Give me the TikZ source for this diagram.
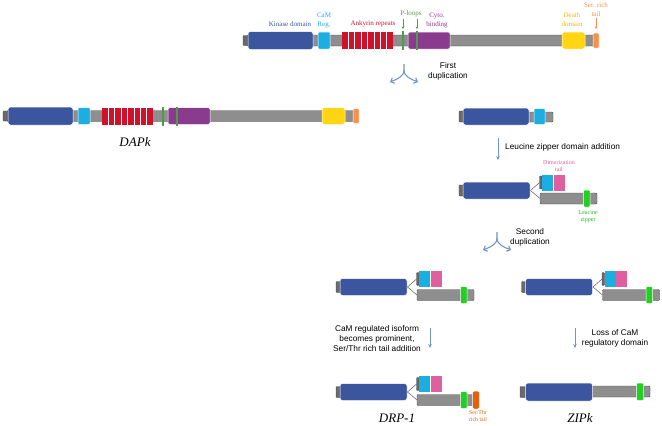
\documentclass[tikz,border=0pt]{standalone}
\usepackage{fontspec}
\setmainfont{Liberation Serif}
\setsansfont{Liberation Sans}
\usetikzlibrary{arrows.meta}

\definecolor{kinblue}{HTML}{3B569E}
\definecolor{camcyan}{HTML}{1BAEE3}
\definecolor{ankred}{HTML}{D0112B}
\definecolor{cytpurple}{HTML}{8A3B8E}
\definecolor{ploopgreen}{HTML}{4E9C47}
\definecolor{deathyellow}{HTML}{FFD514}
\definecolor{deathtext}{HTML}{F0B800}
\definecolor{serorange}{HTML}{F7924B}
\definecolor{dimpink}{HTML}{E0609F}
\definecolor{leugreen}{HTML}{22D022}
\definecolor{storange}{HTML}{E0620F}
\definecolor{bargray}{HTML}{8E8E8E}
\definecolor{capgray}{HTML}{6A6A6A}
\definecolor{arrowblue}{HTML}{7095C4}

\tikzset{
  bar/.style={fill=bargray, draw=gray!60!black, line width=0.4pt, rounded corners=1pt},
  endcap/.style={fill=capgray, draw=gray!50!black, line width=0.3pt, rounded corners=0.8pt},
  dom/.style={draw=white, line width=0.5pt, rounded corners=2.5pt},
  lbl/.style={font=\fontsize{7}{9}\selectfont, align=center, inner sep=0pt},
  steptxt/.style={font=\sffamily\fontsize{8.3}{10}\selectfont, align=center, inner sep=0pt},
  tiny/.style={font=\fontsize{6}{7}\selectfont, align=center, inner sep=0pt},
  protname/.style={font=\itshape\fontsize{13}{13}\selectfont, inner sep=0pt},
  evo/.style={arrowblue, line width=0.9pt, -{Stealth[length=4pt,width=3.5pt]}},
  split/.style={arrowblue, line width=1.1pt, -{Straight Barb[length=3pt,width=6pt]}},
  marker/.style={line width=0.6pt, -{Stealth[length=2.5pt,width=2.5pt]}}
}

% full length kinase, #1 = left end, #2 = centre line
\newcommand{\fullprot}[2]{%
  \begin{scope}[shift={(#1,#2)}]
    \draw[bar] (4,-5.5) rectangle (353,5.5);
    \draw[endcap] (0,-5) rectangle (5,5);
    \draw[dom, fill=kinblue] (5,-9) rectangle (70,9);
    \draw[dom, fill=camcyan, rounded corners=1pt] (75,-8.5) rectangle (87,8.5);
    \fill[ankred] (99,-8.5) rectangle (150,8.5);
    \foreach \i in {1,...,7}
      \draw[white, line width=0.6pt] ({99+6.375*\i},-8.5) -- ++(0,17);
    \fill[ploopgreen] (158.8,-9.5) rectangle (161.3,9.5);
    \draw[dom, fill=cytpurple, rounded corners=1.5pt] (165,-8.5) rectangle (207,8.5);
    \fill[ploopgreen] (172.8,-9.5) rectangle (175.3,9.5);
    \draw[dom, fill=deathyellow] (319,-8.5) rectangle (342,8.5);
    \draw[dom, fill=serorange, rounded corners=1pt] (350,-7.5) rectangle (356,7.5);
  \end{scope}}

% kinase with dimerization tail / leucine zipper fork, #1 = kinase left, #2 = centre
\newcommand{\zipfork}[2]{%
  \begin{scope}[shift={(#1,#2)}]
    \draw[endcap] (-4,-5.5) rectangle (0.5,5.5);
    \draw[dom, fill=kinblue] (0,-8.5) rectangle (67,8.5);
    \draw[gray!70!black, line width=0.5pt] (67.5,0) -- (76.5,-8);
    \draw[gray!70!black, line width=0.5pt] (67.5,0) -- (77,8);
    \draw[endcap] (76.5,-14.5) rectangle (79,-1.5);
    \fill[camcyan] (79,-16) rectangle (90,0);
    \fill[dimpink] (90.5,-16) rectangle (101.5,0);
    \draw[bar] (77,2.5) rectangle (134,13.5);
    \draw[dom, fill=leugreen, rounded corners=1pt] (120.5,-0.5) rectangle (127,16.5);
  \end{scope}}

\begin{document}
\begin{tikzpicture}[x=1pt,y=-1pt]
\useasboundingbox (0,0) rectangle (662,426);

% ancestral full length protein
\fullprot{243}{40.5}
\node[lbl, text=kinblue] (kinlbl) at (290,24) {Kinase domain};
\node[lbl, text=camcyan] (camlbl) at (324,20.5) {CaM\\Reg.};
\node[lbl, text=ankred] (anklbl) at (373,24) {Ankyrin repeats};
\node[lbl, text=ploopgreen] (plooplbl) at (411,14) {P-loops};
\node[lbl, text=cytpurple] (cytlbl) at (437,20) {Cyto.\\binding};
\node[lbl, text=deathtext] (deathlbl) at (572,20) {Death\\domain};
\node[lbl, text=serorange] (serlbl) at (596,10) {Ser. rich\\tail};
\coordinate (pl1) at (403,19); \coordinate (pl1e) at (403,29);
\coordinate (pl2) at (417,19); \coordinate (pl2e) at (417,29);
\coordinate (sr) at (596,18); \coordinate (sre) at (596,29);
\draw[marker, ploopgreen] (pl1) -- (pl1e);
\draw[marker, ploopgreen] (pl2) -- (pl2e);
\draw[marker, serorange] (sr) -- (sre);

% first duplication
\coordinate (d1top) at (404,64);
\coordinate (d1) at (404,70);
\coordinate (d1l) at (390,82);
\coordinate (d1r) at (418,82);
\draw[split] (d1top) -- (d1) .. controls +(0,7) and +(7,-3) .. (d1l);
\draw[split] (d1) .. controls +(0,7) and +(-7,-3) .. (d1r);
\node[steptxt] (dup1) at (448,71) {First\\duplication};

% DAPk
\fullprot{3}{116}
\node[protname] (dapk) at (135,142) {DAPk};

% short copy
\draw[bar] (528,112) rectangle (553,122);
\draw[endcap] (459,111) rectangle (463.5,122);
\draw[dom, fill=kinblue] (463,108) rectangle (529,125);
\draw[dom, fill=camcyan, rounded corners=1pt] (534,108.5) rectangle (545,124.5);

\coordinate (lz) at (498,138); \coordinate (lze) at (498,160);
\draw[evo] (lz) -- (lze);
\node[steptxt, anchor=west] (lzlbl) at (505,147) {Leucine zipper domain addition};

% with dimerization tail and leucine zipper
\zipfork{463}{190.5}
\node[tiny, text=dimpink] (dimlbl) at (559,166.5) {Dimerization\\tail};
\node[tiny, text=leugreen!90!black] (leulbl) at (588,217) {Leucine\\zipper};

% second duplication
\coordinate (d2top) at (497,232);
\coordinate (d2) at (497,238);
\coordinate (d2l) at (483,250);
\coordinate (d2r) at (511,250);
\draw[split] (d2top) -- (d2) .. controls +(0,7) and +(7,-3) .. (d2l);
\draw[split] (d2) .. controls +(0,7) and +(-7,-3) .. (d2r);
\node[steptxt] (dup2) at (530,237) {Second\\duplication};

\zipfork{340}{287}
\zipfork{525.5}{287}

% to DRP-1
\coordinate (cr) at (430,328); \coordinate (cre) at (430,348);
\draw[evo] (cr) -- (cre);
\node[steptxt] (crlbl) at (377,339) {CaM regulated isoform\\becomes prominent,\\Ser/Thr rich tail addition};

% to ZIPk
\coordinate (lc) at (575,328); \coordinate (lce) at (575,348);
\draw[evo] (lc) -- (lce);
\node[steptxt] (lclbl) at (615,338) {Loss of CaM\\regulatory domain};

% DRP-1
\zipfork{340}{392}
\draw[dom, fill=storange, rounded corners=2pt] (472.5,391) rectangle (479.5,409);
\node[tiny, text=storange, font=\fontsize{5.8}{7}\selectfont] (stlbl) at (478,416) {Ser/Thr\\rich tail};
\node[protname] (drp) at (397,418) {DRP-1};

% ZIPk
\draw[bar] (590,386) rectangle (650,397);
\draw[endcap] (520,386.5) rectangle (526,397.5);
\draw[dom, fill=kinblue] (525.5,383) rectangle (592.5,401);
\draw[dom, fill=leugreen, rounded corners=1pt] (636.5,383) rectangle (643.5,400.5);
\node[protname] (zipk) at (580,418) {ZIPk};

\end{tikzpicture}
\end{document}
